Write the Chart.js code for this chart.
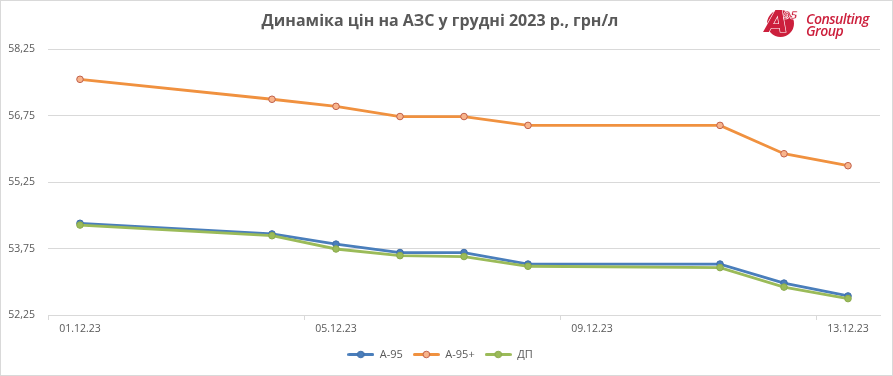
<!DOCTYPE html>
<html>
<head>
<meta charset="utf-8">
<script src="https://cdn.jsdelivr.net/npm/chart.js@4/dist/chart.umd.min.js"></script>
<style>
  html, body { margin: 0; padding: 0; background: #fff; }
  #wrap { position: relative; width: 893px; height: 376px; }
  #c { position: absolute; left: 0; top: 0; }
  #logo { position: absolute; left: 764px; top: 8px; width: 115px; height: 34px; }
  #logo .circ { position: absolute; left: 3px; top: 2px; width: 27px; height: 27px; border-radius: 50%; background: #cc1f3c; }
  #logo .A { position: absolute; left: 1px; top: -3px; font: italic 900 30px "DejaVu Sans", sans-serif; color: #cc1f3c; line-height: 34px; -webkit-text-stroke: 1.2px #fff; paint-order: stroke fill; }
  #logo .n { position: absolute; left: 19px; top: 2px; font: italic 900 11px "DejaVu Sans", sans-serif; color: #cc1f3c; line-height: 11px; -webkit-text-stroke: 0.6px #fff; letter-spacing: -0.5px; }
  #logo .t { position: absolute; left: 42px; top: 5px; font: italic 600 14px "Open Sans", sans-serif; color: #cc1f3c; line-height: 12px; letter-spacing: -0.5px; }
</style>
</head>
<body>
<div id="wrap">
  <canvas id="c" width="893" height="376"></canvas>
  <div id="logo"><div class="circ"></div><div class="A">A</div><div class="n">95</div><div class="t">Consulting<br>Group</div></div>
</div>
<script>
const dates = ['01.12.23','02.12.23','03.12.23','04.12.23','05.12.23','06.12.23','07.12.23','08.12.23','09.12.23','10.12.23','11.12.23','12.12.23','13.12.23'];
const a95     = [54.32, null, null, 54.08, 53.85, 53.66, 53.66, 53.40, null, null, 53.40, 52.97, 52.68];
const a95plus = [57.57, null, null, 57.12, 56.96, 56.73, 56.73, 56.53, null, null, 56.53, 55.89, 55.62];
const dp      = [54.28, null, null, 54.04, 53.74, 53.59, 53.57, 53.35, null, null, 53.32, 52.88, 52.62];
const yTicks  = [52.25, 53.75, 55.25, 56.75, 58.25];
const title   = 'Динаміка цін на АЗС у грудні 2023 р., грн/л';
const seriesNames = ['А-95', 'А-95+', 'ДП'];

const FONT = '"Open Sans", sans-serif';
const TXT = '#595959';

function legendIcon(line, fill, border) {
  const cv = document.createElement('canvas');
  cv.width = 27; cv.height = 9;
  const g = cv.getContext('2d');
  g.strokeStyle = line; g.lineWidth = 3; g.lineCap = 'round';
  g.beginPath(); g.moveTo(1.5, 4.5); g.lineTo(25.5, 4.5); g.stroke();
  g.beginPath(); g.arc(13.5, 4.5, 3.3, 0, Math.PI * 2);
  g.fillStyle = fill; g.fill(); g.lineWidth = 1; g.strokeStyle = border; g.stroke();
  return cv;
}

const cfg = {
  blue:   { line: '#4a7ebb', fill: '#4a7ebb', border: '#3f6ea8' },
  orange: { line: '#f0913f', fill: '#f8b48c', border: '#c0604a' },
  green:  { line: '#9bbb59', fill: '#9bbb59', border: '#8aaa4c' }
};

const borderPlugin = {
  id: 'frame',
  afterDraw(chart) {
    const c = chart.ctx;
    c.save(); c.strokeStyle = '#d9d9d9'; c.lineWidth = 1;
    c.strokeRect(0.5, 0.5, chart.width - 1, chart.height - 1);
    c.restore();
  }
};

function ds(label, data, s, order) {
  return {
    label, data, order,
    borderColor: s.line, backgroundColor: s.fill,
    borderWidth: 2.8,
    pointRadius: 3.3, pointBorderWidth: 1,
    pointBackgroundColor: s.fill, pointBorderColor: s.border,
    pointStyle: 'circle',
    spanGaps: true, tension: 0,
    _icon: legendIcon(s.line, s.fill, s.border)
  };
}

new Chart(document.getElementById('c'), {
  type: 'line',
  data: {
    labels: dates,
    datasets: [
      ds(seriesNames[0], a95, cfg.blue, 2),
      ds(seriesNames[1], a95plus, cfg.orange, 1),
      ds(seriesNames[2], dp, cfg.green, 0)
    ]
  },
  plugins: [borderPlugin],
  options: {
    responsive: false,
    animation: false,
    layout: { padding: { left: 0, right: 13, top: 0, bottom: 6 } },
    plugins: {
      title: {
        display: true, text: title, color: TXT,
        font: { family: FONT, size: 16, weight: 'bold' },
        padding: { top: 12, bottom: 18 }
      },
      legend: {
        position: 'bottom',
        labels: {
          color: TXT, font: { family: FONT, size: 11 },
          usePointStyle: true, pointStyleWidth: 27, boxHeight: 9,
          padding: 10,
          sort: (a, b) => a.datasetIndex - b.datasetIndex,
          generateLabels(chart) {
            return chart.data.datasets.map((d, i) => ({
              text: d.label, datasetIndex: i, pointStyle: d._icon,
              fillStyle: d.borderColor, strokeStyle: d.borderColor, lineWidth: 0,
              fontColor: TXT, hidden: false
            }));
          }
        }
      },
      tooltip: { enabled: false }
    },
    scales: {
      x: {
        type: 'category',
        offset: true,
        border: { display: true, color: '#d9d9d9', width: 1 },
        grid: {
          offset: true, drawOnChartArea: false, drawTicks: true, tickLength: 5,
          color: (ctx) => (ctx.index % 4 === 0 ? '#d9d9d9' : 'rgba(0,0,0,0)')
        },
        ticks: {
          autoSkip: false, maxRotation: 0, color: TXT, padding: 3,
          font: { family: FONT, size: 10.5 },
          callback: (v, i) => (i % 4 === 0 ? dates[i] : '')
        },
        afterFit(scale) { scale.height = 24; }
      },
      y: {
        min: yTicks[0], max: yTicks[yTicks.length - 1],
        border: { display: false },
        grid: { color: '#d9d9d9', drawTicks: false, lineWidth: 1 },
        afterBuildTicks(scale) { scale.ticks = yTicks.map(v => ({ value: v })); },
        ticks: {
          color: TXT, padding: 13,
          font: { family: FONT, size: 10.5 },
          callback: (v) => Number(v).toFixed(2).replace('.', ',')
        },
        afterFit(scale) { scale.width = 48; }
      }
    }
  }
});
</script>
</body>
</html>
